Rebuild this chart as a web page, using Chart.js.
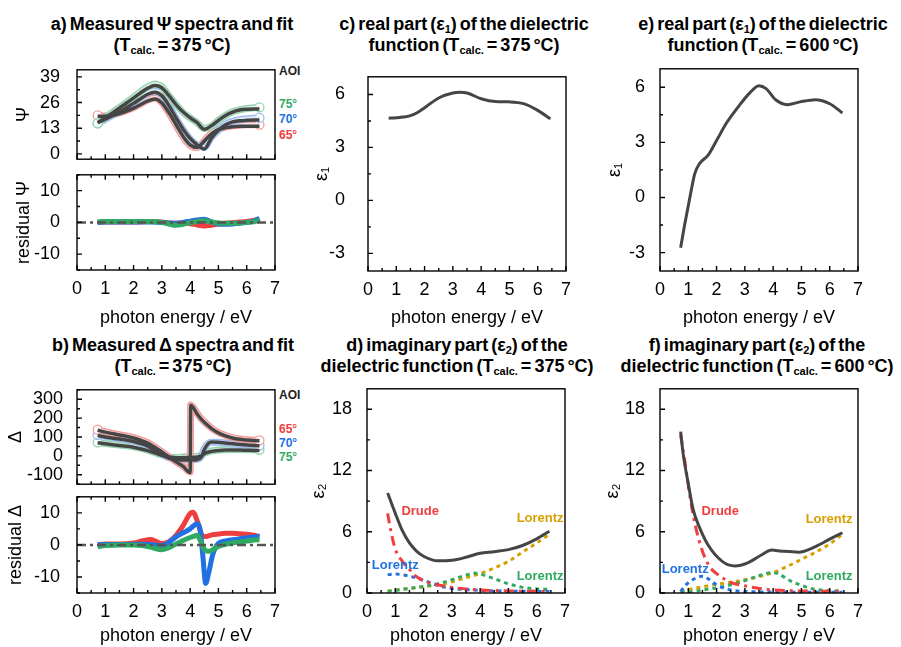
<!DOCTYPE html>
<html>
<head>
<meta charset="utf-8">
<script src="https://cdn.jsdelivr.net/npm/chart.js@4.4.0/dist/chart.umd.min.js"></script>
<style>
  body { margin: 0; background: #fff; width: 901px; height: 647px; position: relative; overflow: hidden;
         font-family: "Liberation Sans", Arial, sans-serif; }
  canvas { position: absolute; }
  .ttl { position: absolute; transform: translateX(-50%); white-space: nowrap; font-weight: bold;
         font-size: 18px; line-height: 21px; text-align: center; word-spacing: -2px; color: #000; }
  .ttl sub { font-size: 11px; vertical-align: -3px; line-height: 0; }
  .aoi { position: absolute; font-weight: bold; font-size: 12px; line-height: 14px; }
</style>
</head>
<body>
<div class="ttl" style="left:172px;top:14px">a) Measured Ψ spectra and fit<br>(T<sub>calc.</sub> = 375 °C)</div>
<div class="ttl" style="left:173px;top:335px">b) Measured Δ spectra and fit<br>(T<sub>calc.</sub> = 375 °C)</div>
<div class="ttl" style="left:464px;top:14px">c) real part (ε<sub>1</sub>) of the dielectric<br>function (T<sub>calc.</sub> = 375 °C)</div>
<div class="ttl" style="left:763px;top:14px">e) real part (ε<sub>1</sub>) of the dielectric<br>function (T<sub>calc.</sub> = 600 °C)</div>
<div class="ttl" style="left:457px;top:335px">d) imaginary part (ε<sub>2</sub>) of the<br>dielectric function (T<sub>calc.</sub> = 375 °C)</div>
<div class="ttl" style="left:757px;top:335px">f) imaginary part (ε<sub>2</sub>) of the<br>dielectric function (T<sub>calc.</sub> = 600 °C)</div>

<div class="aoi" style="left:279px;top:64px;color:#222">AOI</div>
<div class="aoi" style="left:279px;top:97px;color:#30aa62">75°</div>
<div class="aoi" style="left:279px;top:112px;color:#2271e3">70°</div>
<div class="aoi" style="left:279px;top:128px;color:#ef3e3e">65°</div>
<div class="aoi" style="left:279px;top:388px;color:#222">AOI</div>
<div class="aoi" style="left:279px;top:422px;color:#ef3e3e">65°</div>
<div class="aoi" style="left:279px;top:436px;color:#2271e3">70°</div>
<div class="aoi" style="left:279px;top:450px;color:#30aa62">75°</div>

<script>
// ---- data ----
const X_TICKS = [0, 1, 2, 3, 4, 5, 6, 7];
const PSI_TICKS = [0, 13, 26, 39];
const RES_TICKS = [-10, 0, 10];
const DELTA_TICKS = [-100, 0, 100, 200, 300];
const E1_TICKS = [-3, 0, 3, 6];
const E2_TICKS = [0, 6, 12, 18];

// a) Psi
const X_PSI = [0.73, 1.0, 1.25, 1.5, 1.75, 2.0, 2.25, 2.5, 2.75, 3.0, 3.25, 3.5, 3.75, 4.0, 4.25, 4.5, 4.75, 5.0, 5.25, 5.5, 5.75, 6.0, 6.25, 6.45];
const PSI_65 = [19.5, 19.2, 19.8, 20.8, 22.0, 23.5, 25.3, 27.3, 28.3, 26.0, 20.8, 14.5, 8.5, 4.2, 3.2, 6.6, 10.5, 12.5, 13.6, 14.2, 14.5, 14.7, 14.8, 14.8];
const PSI_70 = [15.5, 17.5, 19.5, 21.5, 23.8, 26.0, 28.5, 30.8, 31.8, 30.0, 24.5, 18.0, 12.3, 7.5, 4.5, 3.2, 8.3, 12.0, 15.0, 16.5, 17.3, 17.7, 18.0, 18.2];
const PSI_75 = [15.5, 18.5, 21.0, 23.5, 26.0, 28.7, 31.5, 34.0, 35.4, 34.0, 29.5, 25.0, 21.0, 18.2, 15.8, 12.8, 14.0, 17.0, 19.5, 21.3, 22.3, 23.0, 23.4, 23.6];
const FIT_PSI_65 = [19.0, 19.0, 19.4, 20.4, 21.7, 23.2, 25.0, 26.8, 27.8, 25.8, 20.8, 14.8, 8.8, 4.5, 3.3, 6.5, 10.2, 12.3, 13.3, 13.8, 14.0, 14.0, 14.0, 14.0];
const FIT_PSI_70 = [15.8, 17.6, 19.4, 21.3, 23.4, 25.6, 28.0, 30.2, 31.2, 29.5, 24.5, 18.3, 12.5, 7.8, 4.6, 2.5, 8.0, 12.0, 14.8, 16.2, 16.8, 17.0, 17.1, 17.1];
const FIT_PSI_75 = [15.8, 18.3, 20.8, 23.3, 25.8, 28.4, 31.0, 33.3, 34.6, 33.5, 29.5, 25.0, 21.2, 18.3, 15.8, 12.5, 14.2, 17.0, 19.5, 21.2, 22.2, 22.6, 22.8, 22.8];
const RES_PSI_65 = [0, 0.1, 0.1, 0.1, 0.1, 0.1, 0.2, 0.3, 0.3, 0.1, -0.2, -0.3, -0.2, -0.4, -0.8, -1.1, -0.9, -0.5, -0.3, -0.1, 0.1, 0.3, 0.6, 0.9];
const RES_PSI_70 = [0, 0.1, 0.1, 0.1, 0.1, 0.1, 0.1, 0.1, 0.1, 0, -0.2, -0.3, 0, 0.4, 0.8, 1.0, 0.2, -0.5, -0.6, -0.5, -0.3, 0, 0.4, 1.3];
const RES_PSI_75 = [0.2, 0.3, 0.3, 0.3, 0.3, 0.3, 0.3, 0.3, 0.2, 0, -0.5, -0.9, -0.6, -0.1, 0.3, 0.5, 0.1, -0.2, -0.3, -0.3, -0.2, 0, 0.2, 0.6];

// b) Delta
const X_DELTA = [0.73, 1.0, 1.5, 2.0, 2.5, 3.0, 3.25, 3.5, 3.75, 4.0, 4.02, 4.25, 4.4, 4.5, 4.75, 5.0, 5.25, 5.5, 5.75, 6.0, 6.25, 6.45];
const DELTA_65 = [139, 128, 112, 97, 70, 22, -5, -30, -55, -85, 270, 225, 195, 180, 148, 124, 108, 97, 90, 86, 83, 82];
const DELTA_70 = [112, 104, 92, 80, 55, 8, -10, -18, -20, -20, -20, -18, 0, 40, 72, 72, 68, 63, 60, 57, 56, 55];
const DELTA_75 = [72, 66, 57, 48, 30, 5, -5, -8, -6, -4, -4, -2, 3, 14, 26, 31, 33, 34, 34, 33, 32, 32];
const FIT_DELTA_65 = [136, 126, 111, 95, 68, 21, -6, -31, -56, -88, 268, 222, 193, 178, 146, 122, 106, 95, 88, 84, 81, 80];
const FIT_DELTA_70 = [108, 100, 89, 76, 52, 6, -12, -20, -22, -22, -22, -20, -5, 35, 74, 72, 68, 64, 60, 57, 55, 54];
const FIT_DELTA_75 = [70, 64, 55, 46, 28, 3, -6, -10, -9, -8, -8, -6, 0, 12, 24, 29, 31, 31, 31, 30, 29, 29];
const X_RES_DELTA = [0.73, 1.0, 1.5, 2.0, 2.3, 2.6, 3.0, 3.25, 3.5, 3.75, 4.0, 4.1, 4.25, 4.35, 4.45, 4.55, 4.65, 4.8, 5.0, 5.25, 5.5, 5.75, 6.0, 6.25, 6.45];
const RES_DELTA_65 = [0, 0.3, 0.3, 0.6, 1.2, 1.7, 0.4, 1.0, 3.0, 6.0, 9.8, 10.2, 7.5, 4.5, 2.7, 2.6, 2.8, 3.2, 3.4, 3.6, 3.6, 3.5, 3.3, 3.0, 2.6];
const RES_DELTA_70 = [0, 0.1, 0.1, 0.2, 0.2, 0.1, -0.2, 0.8, 2.5, 3.8, 5.0, 5.8, 6.6, 5.0, -3.5, -12, -9, -3, 0.5, 1.2, 1.6, 1.9, 2.2, 2.5, 2.7];
const RES_DELTA_75 = [-0.5, -0.2, 0, 0, -0.2, -0.7, -1.5, -0.9, 0.3, 1.4, 2.3, 2.6, 3.0, 1.5, -0.5, -1.8, -2.0, -1.5, -0.5, 0.2, 0.6, 0.9, 1.2, 1.5, 1.7];

// c) e) eps1
const X_E1_375 = [0.73, 1.0, 1.25, 1.5, 1.75, 2.0, 2.5, 3.0, 3.25, 3.5, 4.0, 4.5, 5.0, 5.5, 6.0, 6.45];
const E1_375 = [4.65, 4.68, 4.72, 4.8, 4.98, 5.25, 5.8, 6.08, 6.12, 6.08, 5.76, 5.6, 5.58, 5.48, 5.1, 4.62];
const X_E1_600 = [0.73, 0.87, 1.05, 1.23, 1.4, 1.7, 2.0, 2.35, 2.8, 3.15, 3.5, 3.75, 4.1, 4.5, 4.95, 5.5, 6.0, 6.45];
const E1_600 = [-2.73, -1.5, -0.05, 1.3, 1.85, 2.3, 3.1, 4.05, 5.0, 5.65, 6.08, 5.92, 5.3, 5.05, 5.2, 5.32, 5.1, 4.6];

// d) eps2 at 375 C
const X_E2_375 = [0.73, 1.0, 1.25, 1.5, 1.75, 2.0, 2.5, 3.0, 3.5, 4.0, 4.5, 5.0, 5.5, 6.0, 6.45];
const E2_375 = [9.8, 7.8, 6.1, 4.9, 4.1, 3.6, 3.15, 3.2, 3.5, 3.9, 4.05, 4.25, 4.65, 5.3, 6.05];
const X_DRUDE_375 = [0.73, 0.85, 1.0, 1.25, 1.5, 1.75, 2.0, 2.5, 3.0, 3.5, 4.0, 5.0, 6.45];
const DRUDE_375 = [7.8, 6.0, 4.3, 3.1, 2.3, 1.6, 1.2, 0.8, 0.55, 0.4, 0.3, 0.2, 0.15];
const X_LB_375 = [0.73, 1.0, 1.5, 2.0, 2.5, 3.0, 3.5, 4.5, 5.5, 6.45];
const LB_375 = [1.8, 1.85, 1.65, 1.25, 0.75, 0.45, 0.33, 0.2, 0.17, 0.15];
const X_LG_375 = [0.73, 1.0, 1.5, 2.0, 2.5, 3.0, 3.5, 3.8, 4.0, 4.5, 5.0, 5.5, 6.0, 6.45];
const LG_375 = [0.15, 0.25, 0.45, 0.65, 0.9, 1.3, 1.75, 1.95, 1.85, 1.4, 0.9, 0.55, 0.4, 0.35];
const X_LY_375 = [0.73, 1.0, 1.5, 2.0, 2.5, 3.0, 3.5, 4.0, 4.5, 5.0, 5.5, 6.0, 6.45];
const LY_375 = [0.2, 0.3, 0.45, 0.6, 0.8, 1.1, 1.5, 1.9, 2.45, 3.1, 4.0, 4.9, 5.75];

// f) eps2 at 600 C
const X_E2_600 = [0.73, 0.82, 1.0, 1.17, 1.4, 1.7, 2.2, 2.65, 3.1, 3.6, 3.95, 4.3, 4.9, 5.5, 6.05, 6.45];
const E2_600 = [15.8, 13.6, 10.7, 8.2, 6.4, 4.7, 3.1, 2.65, 2.95, 3.75, 4.2, 4.1, 4.0, 4.55, 5.35, 5.9];
const X_DRUDE_600 = [0.73, 0.9, 1.05, 1.25, 1.5, 1.75, 2.0, 2.5, 3.0, 3.5, 4.0, 5.0, 6.45];
const DRUDE_600 = [15.5, 12.5, 9.6, 6.6, 4.1, 2.6, 1.9, 1.05, 0.7, 0.45, 0.3, 0.2, 0.15];
const X_LB_600 = [0.73, 0.9, 1.1, 1.3, 1.5, 1.7, 2.0, 2.5, 3.0, 4.0, 5.0, 6.45];
const LB_600 = [0.15, 0.75, 1.2, 1.5, 1.65, 1.4, 0.8, 0.3, 0.15, 0.1, 0.08, 0.08];
const X_LG_600 = [0.73, 1.0, 1.5, 2.0, 2.5, 3.0, 3.5, 4.0, 4.25, 4.5, 5.0, 5.5, 6.0, 6.45];
const LG_600 = [0.05, 0.1, 0.3, 0.5, 0.8, 1.2, 1.7, 2.0, 1.8, 1.35, 0.75, 0.35, 0.25, 0.2];
const X_LY_600 = [0.73, 1.0, 1.5, 2.0, 2.5, 3.0, 3.5, 4.0, 4.5, 5.0, 5.5, 6.0, 6.45];
const LY_600 = [0.2, 0.35, 0.6, 0.85, 1.05, 1.3, 1.6, 2.0, 2.6, 3.3, 4.0, 4.8, 5.75];

// ---- styling ----
const RED = '#ef3e3e', BLUE = '#2271e3', GREEN = '#30aa62', GOLD = '#d6a100', DARK = '#454545';
const LIGHT = { red: ['#f39a9a', '#fde3e3'], blue: ['#9dbdf0', '#e3ecfb'], green: ['#94d4ae', '#e2f4e9'] };
const FONT = '"Liberation Sans", Arial, sans-serif';

const pts = (xs, ys) => xs.map((x, i) => ({ x: x, y: ys[i] }));

function line(xs, ys, color, width, dash) {
  return {
    data: pts(xs, ys), showLine: true, borderColor: color, borderWidth: width,
    borderDash: dash || [], pointRadius: 0, cubicInterpolationMode: 'monotone'
  };
}

// measured data: light band with coloured rim, open circles at the ends
function measured(xs, ys, key) {
  const last = xs.length - 1;
  const rim = line(xs, ys, LIGHT[key][0], 7);
  rim.pointRadius = c => (c.dataIndex === 0 || c.dataIndex === last) ? 4.5 : 0;
  rim.pointBorderColor = LIGHT[key][0];
  rim.pointBackgroundColor = '#fff';
  rim.pointBorderWidth = 1.3;
  return [line(xs, ys, LIGHT[key][1], 4), rim];
}

function zeroLine() {
  return line([0, 7], [0, 0], '#555', 2.5, [9, 4, 3, 4]);
}

// box frame and inward ticks, like the original plotting program
const frame = {
  id: 'frame',
  afterDatasetsDraw(chart, args, o) {
    const { ctx, chartArea: a, scales: { x, y } } = chart;
    ctx.save();
    ctx.strokeStyle = '#000';
    ctx.lineWidth = 1.4;
    ctx.strokeRect(a.left, a.top, a.right - a.left, a.bottom - a.top);
    ctx.beginPath();
    for (let v = x.min; v <= x.max + 1e-9; v += 0.5) {
      const px = x.getPixelForValue(v);
      const len = Math.abs(v - Math.round(v)) < 1e-6 ? 5 : 3;
      ctx.moveTo(px, a.bottom); ctx.lineTo(px, a.bottom - len);
      if (o.topTicks) { ctx.moveTo(px, a.top); ctx.lineTo(px, a.top + len); }
    }
    const majors = y.ticks.map(t => t.value);
    const start = Math.ceil(y.min / o.yMinor - 1e-9) * o.yMinor;
    for (let v = start; v <= y.max + 1e-9; v += o.yMinor) {
      const py = y.getPixelForValue(v);
      const len = majors.some(m => Math.abs(m - v) < 1e-6) ? 5 : 3;
      ctx.moveTo(a.left, py); ctx.lineTo(a.left + len, py);
    }
    ctx.stroke();
    ctx.restore();
  }
};

const notes = {
  id: 'notes',
  afterDatasetsDraw(chart, args, o) {
    const { ctx, scales: { x, y } } = chart;
    ctx.save();
    ctx.font = 'bold 13px ' + FONT;
    ctx.textAlign = 'center';
    ctx.textBaseline = 'middle';
    (o.items || []).forEach(n => {
      ctx.fillStyle = n.color;
      ctx.fillText(n.text, x.getPixelForValue(n.x), y.getPixelForValue(n.y));
    });
    ctx.restore();
  }
};

// box = [left, top, right, bottom] of the plot area on the page
function plot(box, cfg) {
  const half = 18 * 1.2 / 2;
  const L = Math.round(cfg.yTitleX - half);
  const T = box[1] - 12;
  const W = box[0] - L;
  const cw = box[2] + 12 - L;
  let H, padB, bottom;
  if (cfg.xTitleY) {
    bottom = Math.round(cfg.xTitleY + half);
    H = bottom - box[3];
    padB = 0;
  } else {
    H = 0; padB = 12; bottom = box[3] + 12;
  }
  const cv = document.createElement('canvas');
  cv.width = cw;
  cv.height = bottom - T;
  cv.style.left = L + 'px';
  cv.style.top = T + 'px';
  document.body.appendChild(cv);

  new Chart(cv, {
    type: 'scatter',
    data: { datasets: cfg.datasets },
    options: {
      responsive: false,
      animation: false,
      devicePixelRatio: 1,
      layout: { padding: { left: 0, top: 12, right: 12, bottom: padB } },
      plugins: {
        legend: { display: false },
        tooltip: { enabled: false },
        frame: { yMinor: cfg.yMinor, topTicks: !!cfg.topTicks },
        notes: { items: cfg.notes || [] }
      },
      scales: {
        x: {
          type: 'linear', min: 0, max: 7,
          grid: { display: false }, border: { display: false },
          afterBuildTicks: s => { s.ticks = X_TICKS.map(v => ({ value: v })); },
          afterFit: s => { s.height = H; },
          ticks: { display: !!cfg.xTitleY, padding: 0, color: '#000', font: { family: FONT, size: 18 } },
          title: { display: !!cfg.xTitleY, text: 'photon energy / eV', padding: 0, color: '#000',
                   font: { family: FONT, size: 18 } }
        },
        y: {
          type: 'linear', min: cfg.yMin, max: cfg.yMax,
          grid: { display: false }, border: { display: false },
          afterBuildTicks: s => { s.ticks = cfg.yTicks.map(v => ({ value: v })); },
          afterFit: s => { s.width = W; },
          ticks: { padding: cfg.yPad, color: '#000', font: { family: FONT, size: 18 } },
          title: { display: true, text: cfg.yTitle, padding: 0, color: '#000',
                   font: { family: FONT, size: 18 } }
        }
      }
    },
    plugins: [frame, notes]
  });
}

// a) Psi and residual
plot([77, 62, 275, 167], {
  yMin: -2.7, yMax: 42.6, yTicks: PSI_TICKS, yMinor: 6.5, yPad: 9, yTitle: 'Ψ', yTitleX: 24,
  datasets: [
    line(X_PSI, FIT_PSI_75, DARK, 3.5), line(X_PSI, FIT_PSI_70, DARK, 3.5), line(X_PSI, FIT_PSI_65, DARK, 3.5),
    ...measured(X_PSI, PSI_75, 'green'), ...measured(X_PSI, PSI_70, 'blue'), ...measured(X_PSI, PSI_65, 'red')
  ]
});
plot([77, 167, 275, 270], {
  yMin: -15, yMax: 15, yTicks: RES_TICKS, yMinor: 5, yPad: 9, yTitle: 'residual Ψ', yTitleX: 24,
  xTitleY: 318, topTicks: true,
  datasets: [
    zeroLine(),
    line(X_PSI, RES_PSI_75, GREEN, 5), line(X_PSI, RES_PSI_70, BLUE, 5), line(X_PSI, RES_PSI_65, RED, 5)
  ]
});

// b) Delta and residual
plot([77, 385, 275, 489], {
  yMin: -150, yMax: 350, yTicks: DELTA_TICKS, yMinor: 50, yPad: 6, yTitle: 'Δ', yTitleX: 16,
  datasets: [
    line(X_DELTA, FIT_DELTA_65, DARK, 3.5), line(X_DELTA, FIT_DELTA_70, DARK, 3.5), line(X_DELTA, FIT_DELTA_75, DARK, 3.5),
    ...measured(X_DELTA, DELTA_65, 'red'), ...measured(X_DELTA, DELTA_70, 'blue'), ...measured(X_DELTA, DELTA_75, 'green')
  ]
});
plot([77, 489, 275, 593], {
  yMin: -15, yMax: 15, yTicks: RES_TICKS, yMinor: 5, yPad: 9, yTitle: 'residual Δ', yTitleX: 16,
  xTitleY: 636, topTicks: true,
  datasets: [
    zeroLine(),
    line(X_RES_DELTA, RES_DELTA_75, GREEN, 5), line(X_RES_DELTA, RES_DELTA_70, BLUE, 5),
    line(X_RES_DELTA, RES_DELTA_65, RED, 5)
  ]
});

// c) e) eps1
plot([368, 63, 566, 271], {
  yMin: -4, yMax: 7, yTicks: E1_TICKS, yMinor: 1.5, yPad: 15, yTitle: 'ε₁', yTitleX: 322, xTitleY: 318,
  datasets: [line(X_E1_375, E1_375, DARK, 3)]
});
plot([660, 63, 858, 271], {
  yMin: -4, yMax: 7, yTicks: E1_TICKS, yMinor: 1.5, yPad: 7, yTitle: 'ε₁', yTitleX: 615, xTitleY: 318,
  datasets: [line(X_E1_600, E1_600, DARK, 3)]
});

// d) f) eps2 with oscillator contributions
const DRUDE_DASH = [10, 5, 3, 5], DOTS = [4, 4];
plot([367, 383, 565, 593], {
  yMin: 0, yMax: 20, yTicks: E2_TICKS, yMinor: 3, yPad: 7, yTitle: 'ε₂', yTitleX: 319, xTitleY: 636,
  datasets: [
    line(X_E2_375, E2_375, DARK, 3),
    line(X_DRUDE_375, DRUDE_375, RED, 3, DRUDE_DASH),
    line(X_LB_375, LB_375, BLUE, 3, DOTS),
    line(X_LG_375, LG_375, GREEN, 3, DOTS),
    line(X_LY_375, LY_375, GOLD, 3, DOTS)
  ],
  notes: [
    { text: 'Drude', x: 1.88, y: 8.0, color: RED },
    { text: 'Lorentz', x: 6.12, y: 7.3, color: GOLD },
    { text: 'Lorentz', x: 1.0, y: 2.7, color: BLUE },
    { text: 'Lorentz', x: 6.12, y: 1.6, color: GREEN }
  ]
});
plot([660, 383, 858, 593], {
  yMin: 0, yMax: 20, yTicks: E2_TICKS, yMinor: 3, yPad: 7, yTitle: 'ε₂', yTitleX: 613, xTitleY: 636,
  datasets: [
    line(X_E2_600, E2_600, DARK, 3),
    line(X_DRUDE_600, DRUDE_600, RED, 3, DRUDE_DASH),
    line(X_LB_600, LB_600, BLUE, 3, DOTS),
    line(X_LG_600, LG_600, GREEN, 3, DOTS),
    line(X_LY_600, LY_600, GOLD, 3, DOTS)
  ],
  notes: [
    { text: 'Drude', x: 2.13, y: 8.0, color: RED },
    { text: 'Lorentz', x: 5.98, y: 7.2, color: GOLD },
    { text: 'Lorentz', x: 0.89, y: 2.35, color: BLUE },
    { text: 'Lorentz', x: 5.98, y: 1.6, color: GREEN }
  ]
});
</script>
</body>
</html>
